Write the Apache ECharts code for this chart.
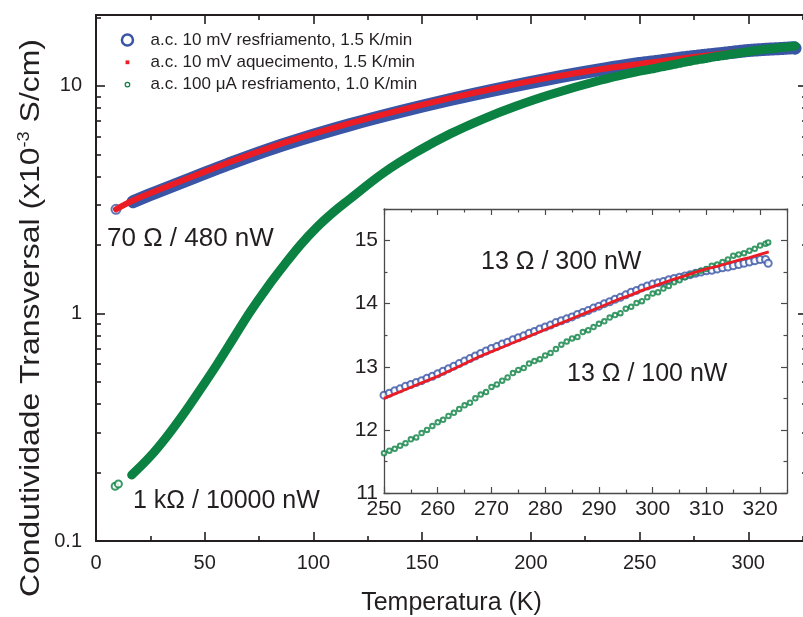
<!DOCTYPE html>
<html><head><meta charset="utf-8">
<script src="https://cdn.jsdelivr.net/npm/echarts@6/dist/echarts.min.js"></script>
<style>html,body{margin:0;padding:0;background:#fff}#c{width:803px;height:617px}</style>
</head><body><div id="c"></div>
<script>
// ---------- data ----------
const seriesNames = [
  'a.c. 10 mV resfriamento, 1.5 K/min',
  'a.c. 10 mV aquecimento, 1.5 K/min',
  'a.c. 100 \u03bcA resfriamento, 1.0 K/min'
];
// main plot, low temperature part (T in K, conductivity in 1e-3 S/cm)
const blueStartT = [9.2];
const blueStartV = [2.87];
const blueMainT = [17, 28, 45, 61, 78, 94, 117, 140, 163, 186, 209, 232];
const blueMainV = [3.1, 3.42, 3.96, 4.54, 5.2, 5.83, 6.76, 7.72, 8.72, 9.74, 10.78, 11.79];
const redMainT = [9.2, 17, 28, 45, 61, 78, 94, 117, 140, 163, 186, 209, 232];
const redMainV = [2.87, 3.14, 3.47, 4.02, 4.61, 5.28, 5.92, 6.86, 7.83, 8.84, 9.87, 10.9, 11.85];
const greenStartT = [8.8, 10.3];
const greenStartV = [0.174, 0.178];
const greenMainT = [16.4, 24.9, 32.6, 40.3, 47.9, 55.6, 63.3, 71, 78.7, 86.3, 94, 101.7, 109.4, 116.3, 132.4, 147.8, 163.1, 178.5, 193, 209, 232];
const greenMainV = [0.195, 0.235, 0.288, 0.362, 0.462, 0.596, 0.78, 1.02, 1.30, 1.62, 2.0, 2.4, 2.8, 3.16, 4.16, 5.15, 6.17, 7.19, 8.14, 9.17, 10.59];

// high temperature part (also shown in the inset)
const insetT = [250,251,252,253,254,255,256,257,258,259,
  260,261,262,263,264,265,266,267,268,269,
  270,271,272,273,274,275,276,277,278,279,
  280,281,282,283,284,285,286,287,288,289,
  290,291,292,293,294,295,296,297,298,299,
  300,301,302,303,304,305,306,307,308,309,
  310,311,312,313,314,315,316,317,318,319,
  320,321,321.5];
const insetBlue = [12.55,12.58,12.62,12.65,12.69,12.72,12.75,12.78,12.82,12.85,
  12.89,12.93,12.97,13.01,13.05,13.09,13.13,13.17,13.21,13.25,
  13.29,13.32,13.36,13.39,13.43,13.46,13.49,13.53,13.56,13.60,
  13.63,13.66,13.70,13.73,13.76,13.79,13.83,13.86,13.89,13.93,
  13.96,14.00,14.03,14.07,14.10,14.14,14.18,14.21,14.25,14.28,
  14.31,14.33,14.35,14.38,14.40,14.42,14.44,14.46,14.48,14.50,
  14.52,14.53,14.55,14.57,14.58,14.60,14.62,14.64,14.66,14.68,
  14.70,14.70,14.64];
const insetGreen = [11.63,11.67,11.70,11.75,11.79,11.85,11.88,11.95,12.00,12.06,
  12.12,12.16,12.22,12.27,12.33,12.39,12.43,12.50,12.56,12.60,
  12.68,12.72,12.78,12.83,12.90,12.95,12.98,13.05,13.09,13.12,
  13.18,13.22,13.28,13.35,13.40,13.45,13.47,13.55,13.58,13.63,
  13.68,13.72,13.78,13.82,13.85,13.92,13.95,14.01,14.04,14.10,
  14.16,14.18,14.24,14.28,14.34,14.37,14.42,14.46,14.49,14.52,
  14.55,14.60,14.62,14.66,14.70,14.76,14.78,14.80,14.84,14.87,
  14.92,14.95,14.97];
const insetRedT = [250,252,254,256,258,260,262,264,266,268,270,272,274,276,278,280,282,284,286,288,
  290,292,294,296,298,300,302,304,306,308,310,312,314,316,318,320,321.6];
const insetRed = [12.50,12.57,12.64,12.71,12.78,12.85,12.93,13.01,13.09,13.17,13.24,13.31,13.38,13.45,13.52,13.59,13.66,13.73,13.80,13.87,
  13.94,14.01,14.08,14.14,14.21,14.27,14.33,14.39,14.44,14.50,14.55,14.59,14.64,14.69,14.73,14.78,14.82];

// tick values
const mainXMajor = [0, 50, 100, 150, 200, 250, 300];
const mainXMinor = [25, 75, 125, 175, 225, 275, 325];
const mainYMajor = [0.1, 1, 10];
const mainYMinor = [0.2, 0.3, 0.4, 0.5, 0.6, 0.7, 0.8, 0.9, 2, 3, 4, 5, 6, 7, 8, 9, 20];
const insetXMajor = [250, 260, 270, 280, 290, 300, 310, 320];
const insetXMinor = [255, 265, 275, 285, 295, 305, 315, 325];
const insetYMajor = [11, 12, 13, 14, 15];
const insetYMinor = [11.5, 12.5, 13.5, 14.5, 15.5];

// annotations
const annotations = [
  {text: '70 \u03a9 / 480 nW', x: 107, y: 239, size: 26},
  {text: '1 k\u03a9 / 10000 nW', x: 133, y: 501, size: 25},
  {text: '13 \u03a9 / 300 nW', x: 481, y: 262, size: 25},
  {text: '13 \u03a9 / 100 nW', x: 567, y: 374, size: 25}
];

// ---------- style ----------
const FONT = '"Liberation Sans", Arial, Helvetica, sans-serif';
const TEXT = '#231f20';
const BLUE = '#3a55a5';
const RED = '#ec1c24';
const GREEN = '#0b8142';

const pairs = (ts, vs) => ts.map((t, i) => [t, vs[i]]);

function axes(gi, sides, base, major, minor, st) {
  const out = [];
  sides.forEach((side, k) => {
    out.push(Object.assign({}, base, {
      gridIndex: gi, position: side,
      axisLine: {show: true, onZero: false, lineStyle: {color: st.line, width: st.lw}},
      axisTick: {show: true, inside: true, length: st.major, customValues: major,
                 lineStyle: {color: st.line, width: st.tw}},
      axisLabel: k === 0 ? {show: true, customValues: major, fontSize: st.fs, color: TEXT,
                            fontFamily: FONT, margin: st.margin} : {show: false},
      splitLine: {show: false}
    }));
    out.push(Object.assign({}, base, {
      gridIndex: gi, position: side,
      axisLine: {show: false, onZero: false},
      axisTick: {show: true, inside: true, length: st.minor, customValues: minor,
                 lineStyle: {color: st.line, width: st.tw}},
      axisLabel: {show: false},
      splitLine: {show: false}
    }));
  });
  return out;
}

const mainSt = {line: TEXT, lw: 2, tw: 1.6, major: 9, minor: 5, fs: 20, margin: 12};
const mainStY = Object.assign({}, mainSt, {margin: 14});
const insSt = {line: '#4a4a4a', lw: 1.3, tw: 1.2, major: 6, minor: 3.5, fs: 21, margin: 6};

const xAxes = axes(0, ['bottom', 'top'], {type: 'value', min: 0, max: 327}, mainXMajor, mainXMinor, mainSt)
  .concat(axes(1, ['bottom', 'top'], {type: 'value', min: 250, max: 325}, insetXMajor, insetXMinor, insSt));
const yAxes = axes(0, ['left', 'right'], {type: 'log', logBase: 10, min: 0.1, max: 20.5}, mainYMajor, mainYMinor, mainStY)
  .concat(axes(1, ['left', 'right'], {type: 'value', min: 11, max: 15.5}, insetYMajor, insetYMinor, insSt));

xAxes[0].name = 'Temperatura (K)';
xAxes[0].nameLocation = 'middle';
xAxes[0].nameGap = 50;
xAxes[0].nameTextStyle = {fontSize: 25, color: TEXT, fontFamily: FONT};

const mainBlue = pairs(blueMainT, blueMainV).concat(pairs(insetT, insetBlue));
const mainRed = pairs(redMainT, redMainV).concat(pairs(insetRedT, insetRed));
const mainGreen = pairs(greenMainT, greenMainV).concat(pairs(insetT, insetGreen));

const option = {
  animation: false,
  backgroundColor: '#fff',
  grid: [
    {left: 96, right: -4, top: 15, bottom: 76, outerBoundsMode: 'none'},
    {left: 384, right: 16, top: 209, bottom: 124, show: true, backgroundColor: '#fff', borderWidth: 0, outerBoundsMode: 'none'}
  ],
  legend: {
    left: 120.7, top: 29.5, padding: 0, orient: 'vertical', selectedMode: false,
    itemWidth: 36, itemHeight: 11, itemGap: 1.3,
    textStyle: {fontSize: 17, color: TEXT, fontFamily: FONT, lineHeight: 21},
    data: [
      {name: seriesNames[0], icon: 'circle', itemStyle: {color: '#fff', borderColor: BLUE, borderWidth: 2.5}},
      {name: seriesNames[1], icon: 'path://M0,0M11,11M3.6,3.6h3.8v3.8h-3.8z', itemStyle: {color: RED, borderWidth: 0}},
      {name: seriesNames[2], icon: 'path://M0,0M11,11M3.2,5.5A2.3,2.3,0,0,1,7.8,5.5A2.3,2.3,0,0,1,3.2,5.5Z',
       itemStyle: {color: '#fff', borderColor: GREEN, borderWidth: 1.2}}
    ]
  },
  xAxis: xAxes,
  yAxis: yAxes,
  series: [
    {name: seriesNames[0], type: 'line', xAxisIndex: 0, yAxisIndex: 0, data: mainBlue, smooth: 0.4,
     showSymbol: false, lineStyle: {color: BLUE, width: 13, cap: 'round', join: 'round'}, itemStyle: {color: BLUE}},
    {name: seriesNames[0], type: 'scatter', xAxisIndex: 0, yAxisIndex: 0, data: pairs(blueStartT, blueStartV),
     symbol: 'emptyCircle', symbolSize: 9, itemStyle: {color: BLUE, borderWidth: 2.2}},
    {name: seriesNames[1], type: 'line', xAxisIndex: 0, yAxisIndex: 0, data: mainRed, smooth: 0.4,
     showSymbol: false, lineStyle: {color: RED, width: 6, cap: 'round', join: 'round'}, itemStyle: {color: RED}},
    {name: seriesNames[2], type: 'line', xAxisIndex: 0, yAxisIndex: 0, data: mainGreen, smooth: 0.4,
     showSymbol: false, lineStyle: {color: GREEN, width: 9, cap: 'round', join: 'round'}, itemStyle: {color: GREEN}},
    {name: seriesNames[2], type: 'scatter', xAxisIndex: 0, yAxisIndex: 0, data: pairs(greenStartT, greenStartV),
     symbol: 'emptyCircle', symbolSize: 7, itemStyle: {color: GREEN, borderWidth: 1.6}},
    // inset
    {name: seriesNames[0], type: 'scatter', xAxisIndex: 4, yAxisIndex: 4, data: pairs(insetT, insetBlue),
     symbol: 'emptyCircle', symbolSize: 7, itemStyle: {color: BLUE, borderWidth: 1.2}, clip: true},
    {name: seriesNames[1], type: 'line', xAxisIndex: 4, yAxisIndex: 4, data: pairs(insetRedT, insetRed),
     showSymbol: false, lineStyle: {color: RED, width: 2.8}, itemStyle: {color: RED}, clip: true},
    {name: seriesNames[2], type: 'scatter', xAxisIndex: 4, yAxisIndex: 4, data: pairs(insetT, insetGreen),
     symbol: 'emptyCircle', symbolSize: 4.5, itemStyle: {color: GREEN, borderWidth: 1}, clip: true}
  ],
  graphic: {elements: [
    {type: 'text', x: 31, y: 318, rotation: Math.PI / 2, scaleX: 1.14, silent: true,
     style: {text: 'Condutividade Transversal (x10{sup|-3} S/cm)', fontSize: 28, fontFamily: FONT, fill: TEXT,
             align: 'center', verticalAlign: 'middle',
             rich: {sup: {fontSize: 16, fontFamily: FONT, fill: TEXT, verticalAlign: 'top'}}}}
  ].concat(annotations.map(a => ({type: 'text', x: a.x, y: a.y, silent: true,
     style: {text: a.text, fontSize: a.size, fontFamily: FONT, fill: TEXT, align: 'left', verticalAlign: 'middle'}})))}
};

const chart = echarts.init(document.getElementById('c'), null, {renderer: 'canvas'});
chart.setOption(option);
</script></body></html>
